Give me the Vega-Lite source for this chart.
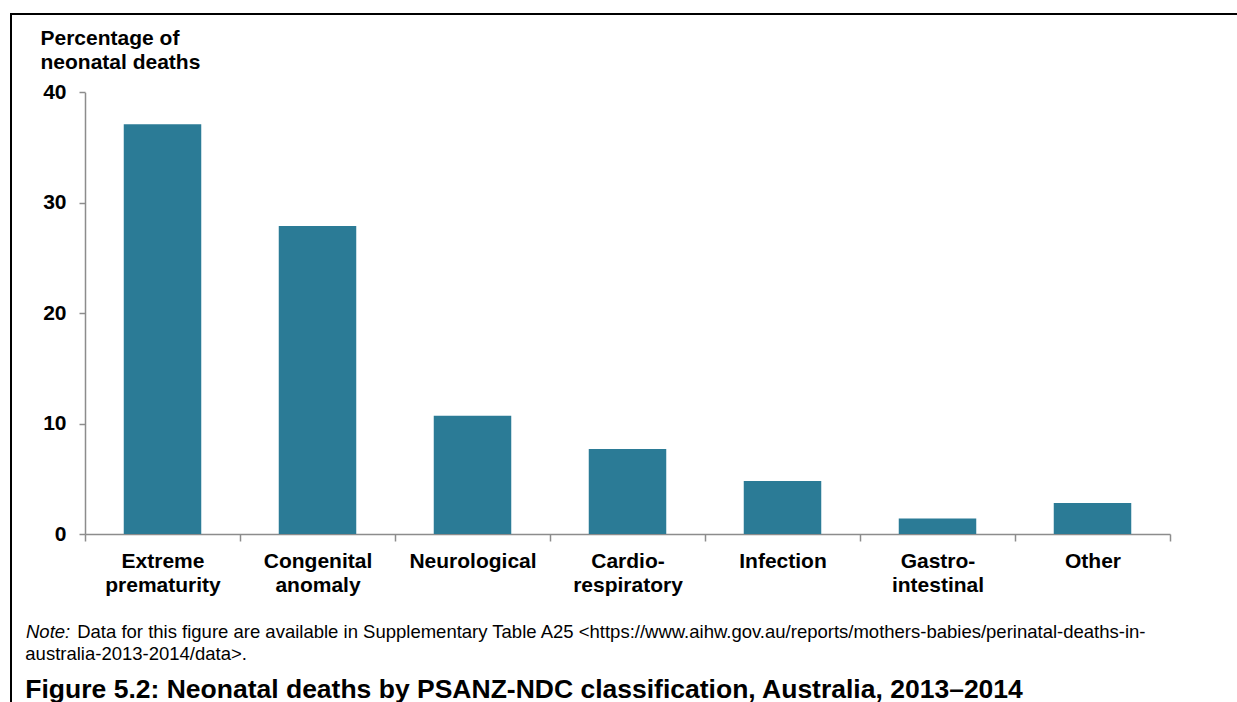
{
  "$schema": "https://vega.github.io/schema/vega-lite/v6.json",
  "autosize": {"type": "none"},
  "padding": {"left": 11, "top": 14, "right": 0, "bottom": 0},
  "width": 1226,
  "height": 688,
  "background": "white",
  "config": {
    "font": "Liberation Sans",
    "view": {"stroke": "black", "strokeWidth": 2, "strokeDash": [1226, 1914, 688]}
  },
  "title": {
    "text": "australia-2013-2014/data>.",
    "subtitle": "Figure 5.2: Neonatal deaths by PSANZ-NDC classification, Australia, 2013–2014",
    "orient": "bottom",
    "anchor": "start",
    "frame": "group",
    "offset": 0,
    "font": "Liberation Sans",
    "fontSize": 18.5,
    "fontWeight": "normal",
    "color": "black",
    "lineHeight": 23,
    "subtitleFont": "Liberation Sans",
    "subtitleFontSize": 26.5,
    "subtitleFontWeight": "bold",
    "subtitleColor": "black",
    "subtitlePadding": 13,
    "dx": 14.3,
    "dy": -57
  },
  "data": {
    "values": [
      {"cause": "Extreme prematurity", "pct": 37.1},
      {"cause": "Congenital anomaly", "pct": 27.9},
      {"cause": "Neurological", "pct": 10.7},
      {"cause": "Cardio-respiratory", "pct": 7.7},
      {"cause": "Infection", "pct": 4.8},
      {"cause": "Gastro-intestinal", "pct": 1.4},
      {"cause": "Other", "pct": 2.8}
    ]
  },
  "layer": [
    {
      "mark": {"type": "bar", "color": "#2b7b96", "width": {"band": 0.5}},
      "encoding": {
        "x": {
          "field": "cause",
          "type": "nominal",
          "sort": null,
          "scale": {"range": [74, 1159], "paddingInner": 0, "paddingOuter": 0},
          "axis": {
            "title": "Note:",
            "titleFont": "Liberation Sans",
            "titleFontStyle": "italic",
            "titleFontWeight": "normal",
            "titleFontSize": 18.5,
            "titleColor": "black",
            "titleAlign": "left",
            "titleAnchor": "start",
            "titleBaseline": "alphabetic",
            "titleX": 14.5,
            "titleY": 103,
            "offset": -168,
            "tickBand": "extent",
            "labelAngle": 0,
            "labelExpr": "indexof(datum.label, ' ') > 0 ? split(datum.label, ' ') : (indexof(datum.label, '-') > 0 ? [slice(datum.label, 0, indexof(datum.label, '-') + 1), slice(datum.label, indexof(datum.label, '-') + 1)] : datum.label)",
            "labelFont": "Liberation Sans",
            "labelFontSize": 21,
            "labelFontWeight": "bold",
            "labelColor": "black",
            "labelLineHeight": 24,
            "labelPadding": 9,
            "tickSize": 7,
            "tickColor": "#8c8c8c",
            "tickWidth": 1.5,
            "domainColor": "#8c8c8c",
            "domainWidth": 1.5
          }
        },
        "y": {
          "field": "pct",
          "type": "quantitative",
          "scale": {"domain": [0, 40], "range": [520, 78.3], "nice": false, "zero": true},
          "axis": {
            "title": ["Percentage of", "neonatal deaths"],
            "titleAngle": 0,
            "titleAlign": "left",
            "titleBaseline": "alphabetic",
            "titleX": -45,
            "titleY": 30,
            "titleFont": "Liberation Sans",
            "titleFontSize": 21,
            "titleFontWeight": "bold",
            "titleColor": "black",
            "titleLineHeight": 24,
            "values": [0, 10, 20, 30, 40],
            "grid": false,
            "offset": -74,
            "tickSize": 6,
            "tickColor": "#8c8c8c",
            "tickWidth": 1.5,
            "domainColor": "#8c8c8c",
            "domainWidth": 1.5,
            "labelFont": "Liberation Sans",
            "labelFontSize": 21,
            "labelFontWeight": "bold",
            "labelColor": "black",
            "labelPadding": 13
          }
        }
      }
    },
    {
      "mark": {"type": "bar", "opacity": 0, "width": {"band": 0.5}},
      "encoding": {
        "x": {
          "field": "cause",
          "type": "nominal",
          "sort": null,
          "axis": {
            "orient": "top",
            "domain": false,
            "ticks": false,
            "labels": false,
            "grid": false,
            "title": "Data for this figure are available in Supplementary Table A25 <https://www.aihw.gov.au/reports/mothers-babies/perinatal-deaths-in-",
            "titleFont": "Liberation Sans",
            "titleFontStyle": "normal",
            "titleFontWeight": "normal",
            "titleFontSize": 18.5,
            "titleColor": "black",
            "titleAlign": "left",
            "titleAnchor": "start",
            "titleBaseline": "alphabetic",
            "titleLimit": 1200,
            "titleX": 65.7,
            "titleY": 623
          }
        },
        "y": {"field": "pct", "type": "quantitative"}
      }
    }
  ],
  "resolve": {"axis": {"x": "independent"}}
}
